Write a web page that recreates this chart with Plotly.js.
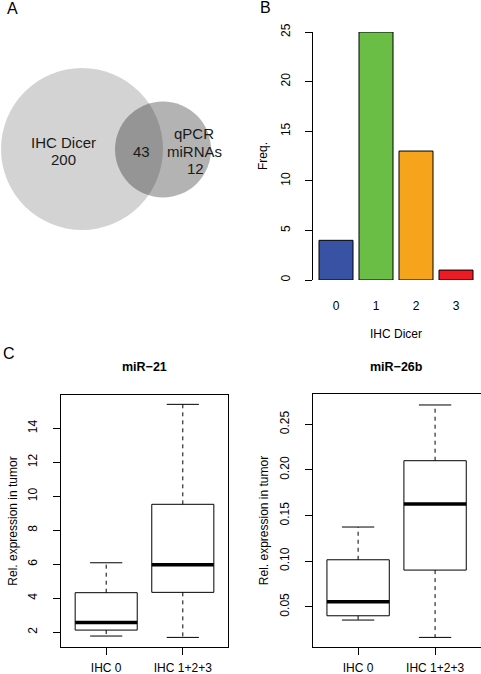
<!DOCTYPE html>
<html>
<head>
<meta charset="utf-8">
<script src="https://cdn.plot.ly/plotly-3.0.1.min.js"></script>
<style>html,body{margin:0;padding:0;background:#fff}#chart{width:481px;height:674px}</style>
</head>
<body>
<div id="chart"></div>
<script>
// ---- Data ----
const vennSets = ["IHC Dicer", "qPCR\nmiRNAs"];
const vennOnly = [200, 12];
const vennBoth = 43;

const dicerCats = [0, 1, 2, 3];
const dicerFreq = [4, 25, 13, 1];
const dicerColors = ["#3953a4", "#6abd45", "#f7a41d", "#ed1c24"];

const groupLabels = ["IHC 0", "IHC 1+2+3"];
// miR-21 box statistics: [IHC 0, IHC 1+2+3]
const mir21Low = [1.78, 1.70];
const mir21Q1 = [2.13, 4.35];
const mir21Med = [2.57, 5.98];
const mir21Q3 = [4.33, 9.53];
const mir21High = [6.09, 15.41];
// miR-26b box statistics
const mir26bLow = [0.0354, 0.0164];
const mir26bQ1 = [0.0401, 0.0902];
const mir26bMed = [0.0555, 0.1626];
const mir26bQ3 = [0.1015, 0.2101];
const mir26bHigh = [0.1374, 0.2712];

// ---- helpers ----
const W = 481, H = 674;
const fx = p => p / W;
const fy = p => 1 - p / H;
const FONT = '"Liberation Sans", Arial, Helvetica, sans-serif';

function boxTraces(lo, q1, med, q3, hi, xa, ya) {
  const hw = 0.405, cap = 0.21;
  const tr = [];
  for (let i = 0; i < lo.length; i++) {
    const c = i + 1;
    const base = {xaxis: xa, yaxis: ya, mode: 'lines', showlegend: false, hoverinfo: 'skip', type: 'scatter'};
    tr.push(Object.assign({}, base, {
      x: [c, c, null, c, c], y: [q3[i], hi[i], null, q1[i], lo[i]],
      line: {color: 'black', width: 1, dash: '4px,4px'}}));
    tr.push(Object.assign({}, base, {
      x: [c - cap, c + cap, null, c - cap, c + cap], y: [hi[i], hi[i], null, lo[i], lo[i]],
      line: {color: 'black', width: 1}}));
    tr.push(Object.assign({}, base, {
      x: [c - hw, c + hw, c + hw, c - hw, c - hw], y: [q1[i], q1[i], q3[i], q3[i], q1[i]],
      line: {color: 'black', width: 1}}));
    tr.push(Object.assign({}, base, {
      x: [c - hw, c + hw], y: [med[i], med[i]],
      line: {color: 'black', width: 3.5}}));
  }
  return tr;
}

const traces = [];
traces.push({
  type: 'bar', x: dicerCats, y: dicerFreq, xaxis: 'x', yaxis: 'y',
  width: 0.85, cliponaxis: false, showlegend: false, hoverinfo: 'x+y',
  marker: {color: dicerColors, line: {color: 'black', width: 1}}
});
traces.push(...boxTraces(mir21Low, mir21Q1, mir21Med, mir21Q3, mir21High, 'x2', 'y2'));
traces.push(...boxTraces(mir26bLow, mir26bQ1, mir26bMed, mir26bQ3, mir26bHigh, 'x3', 'y3'));

const tickFont = {family: FONT, size: 12, color: 'black'};
const boxX = dom => ({
  domain: dom, range: [0.41, 2.59], showgrid: false, zeroline: false,
  showline: true, mirror: true, linecolor: 'black', linewidth: 1,
  tickmode: 'array', tickvals: [1, 2], ticktext: groupLabels,
  ticks: 'outside', ticklen: 7, tickcolor: 'black', tickfont: tickFont, ticklabelstandoff: 3
});
const boxY = (dom, rng, tv, fmt, anchor) => ({
  domain: dom, range: rng, showgrid: false, zeroline: false, anchor: anchor,
  showline: true, mirror: true, linecolor: 'black', linewidth: 1,
  tickmode: 'array', tickvals: tv, tickformat: fmt, tickangle: -90,
  ticks: 'outside', ticklen: 7, tickcolor: 'black', tickfont: tickFont, ticklabelstandoff: 11,
  title: {text: 'Rel. expression in tumor', font: {family: FONT, size: 12, color: 'black'}, standoff: 6}
});

// Venn geometry (pixel units of panel A)
const big = {cx: 82, cy: 149, r: 81};
const small = {cx: 163, cy: 149.5, r: 48};

const annFont = s => ({family: FONT, size: s, color: 'black'});
const vennAnn = (txt, x, y) => ({xref: 'x4', yref: 'y4', x: x, y: y, text: txt, showarrow: false,
  font: {family: FONT, size: 15, color: '#1a1a1a'}, xanchor: 'center', yanchor: 'middle'});
const setLines0 = vennSets[0].split('\n');
const setLines1 = vennSets[1].split('\n');

const layout = {
  width: W, height: H, margin: {l: 0, r: 0, t: 0, b: 0},
  paper_bgcolor: 'white', plot_bgcolor: 'rgba(0,0,0,0)',
  font: {family: FONT, size: 12, color: 'black'},
  showlegend: false,
  xaxis: {domain: [fx(313), fx(479)], range: [-0.575, 3.575], showgrid: false, zeroline: false,
    showline: false, ticks: '', tickmode: 'array', tickvals: dicerCats, ticktext: dicerCats.map(String),
    tickfont: tickFont, ticklabelstandoff: 17,
    title: {text: 'IHC Dicer', font: {family: FONT, size: 12, color: 'black'}, standoff: 17}},
  yaxis: {domain: [fy(280), fy(32)], range: [0, 25], showgrid: false, zeroline: false,
    showline: true, linecolor: 'black', linewidth: 1, ticks: 'outside', ticklen: 7, tickcolor: 'black',
    tickmode: 'array', tickvals: [0, 5, 10, 15, 20, 25], tickangle: -90, tickfont: tickFont, ticklabelstandoff: 10,
    title: {text: 'Freq.', font: {family: FONT, size: 12, color: 'black'}, standoff: 9}},
  xaxis2: Object.assign(boxX([fx(61), fx(228)]), {anchor: 'y2'}),
  yaxis2: boxY([fy(647), fy(395)], [1.135, 15.96], [2, 4, 6, 8, 10, 12, 14], 'd', 'x2'),
  xaxis3: Object.assign(boxX([fx(312.7), fx(480.5)]), {anchor: 'y3'}),
  yaxis3: boxY([fy(646.7), fy(394.3)], [0.0062, 0.2829], [0.05, 0.10, 0.15, 0.20, 0.25], '.2f', 'x3'),
  xaxis4: {domain: [0, fx(240)], range: [0, 240], visible: false, fixedrange: true, anchor: 'y4'},
  yaxis4: {domain: [fy(300), 1], range: [300, 0], visible: false, fixedrange: true, anchor: 'x4'},
  shapes: [
    {type: 'circle', xref: 'x4', yref: 'y4', x0: big.cx - big.r, x1: big.cx + big.r,
      y0: big.cy - big.r, y1: big.cy + big.r, fillcolor: '#d3d3d3', line: {width: 0}, layer: 'below'},
    {type: 'circle', xref: 'x4', yref: 'y4', x0: small.cx - small.r, x1: small.cx + small.r,
      y0: small.cy - small.r, y1: small.cy + small.r, fillcolor: 'rgba(20,20,20,0.32)', line: {width: 0}, layer: 'below'}
  ],
  annotations: [
    vennAnn(setLines0[0], 63, 142), vennAnn(String(vennOnly[0]), 63, 159),
    vennAnn(String(vennBoth), 141, 151),
    vennAnn(setLines1[0], 194, 133), vennAnn(setLines1[1], 194, 151), vennAnn(String(vennOnly[1]), 195, 168),
    {xref: 'paper', yref: 'paper', x: fx(12), y: fy(9), text: 'A', showarrow: false, font: annFont(16), xanchor: 'center', yanchor: 'middle'},
    {xref: 'paper', yref: 'paper', x: fx(265), y: fy(8), text: 'B', showarrow: false, font: annFont(16), xanchor: 'center', yanchor: 'middle'},
    {xref: 'paper', yref: 'paper', x: fx(9), y: fy(353), text: 'C', showarrow: false, font: annFont(16), xanchor: 'center', yanchor: 'middle'},
    {xref: 'x2 domain', yref: 'paper', x: 0.5, y: fy(367), text: '<b>miR−21</b>', showarrow: false,
      font: {family: FONT, size: 12.5, color: 'black'}, xanchor: 'center', yanchor: 'middle'},
    {xref: 'x3 domain', yref: 'paper', x: 0.5, y: fy(367), text: '<b>miR−26b</b>', showarrow: false,
      font: {family: FONT, size: 12.5, color: 'black'}, xanchor: 'center', yanchor: 'middle'}
  ]
};

Plotly.newPlot('chart', traces, layout, {displayModeBar: false, staticPlot: true});
</script>
</body>
</html>
